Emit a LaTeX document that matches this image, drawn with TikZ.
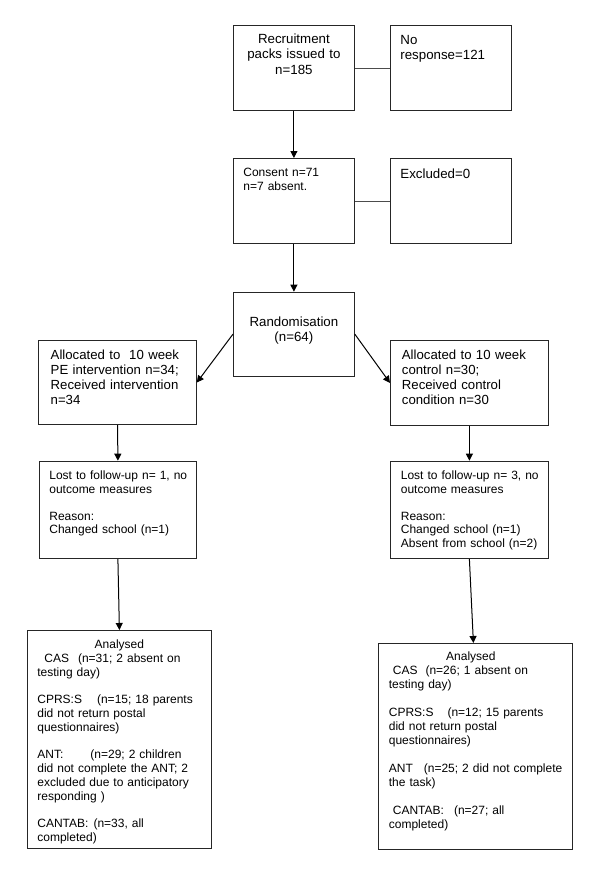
\documentclass[tikz,border=0pt]{standalone}
\usepackage{fontspec}
\setmainfont{Liberation Sans}
\usetikzlibrary{arrows.meta}

\begin{document}
\begin{tikzpicture}[
  x=1pt, y=-1pt,
  block/.style={draw=black!85, line width=0.8pt, anchor=north west, inner ysep=0pt, align=left},
  big text/.style={font=\fontsize{13.3}{15.5}\selectfont},
  mid text/.style={font=\fontsize{13.2}{15}\selectfont},
  small text/.style={font=\fontsize{12}{13.5}\selectfont},
  link/.style={draw=black!70, line width=0.7pt},
  arrow/.style={draw=black, line width=1pt, -{Triangle[width=7pt,length=7pt]}},
]
\useasboundingbox (0,0) rectangle (600,875);

\node[name=recruit, block, big text, align=center, inner xsep=5pt, text width=111pt,
  text height=17.8pt, text depth=67.2pt] at (233,25)
  {Recruitment\\packs issued to\\n=185};
\node[name=noresp, block, big text, inner xsep=10pt, text width=101pt,
  text height=18.8pt, text depth=66.2pt] at (390,25)
  {No\\response=121};

\node[name=consent, block, font=\fontsize{12}{13.3}\selectfont, inner xsep=10pt, text width=101pt,
  text height=18.3pt, text depth=66.7pt] at (233,158)
  {Consent n=71\\n=7 absent.};
\node[name=excluded, block, big text, inner xsep=10pt, text width=101pt,
  text height=19.8pt, text depth=65.2pt] at (390,158)
  {Excluded=0};

\node[name=random, block, big text, align=center, inner xsep=5pt, text width=111pt,
  text height=33.9pt, text depth=50.1pt] at (233,291.7)
  {Randomisation\\(n=64)};

\node[name=allocpe, block, mid text, inner xsep=12pt, text width=133.7pt,
  text height=19.4pt, text depth=64.9pt] at (38.3,340)
  {\mbox{Allocated to\ \ 10 week}\\\mbox{PE intervention n=34;}\\\mbox{Received intervention}\\n=34};
\node[name=alloccon, block, mid text, inner xsep=11.5pt, text width=135pt,
  text height=19.4pt, text depth=65.6pt] at (390,340)
  {Allocated to 10 week\\control n=30;\\Received control\\condition n=30};

\node[name=lostpe, block, small text, inner xsep=10pt, text width=137pt,
  text height=18.6pt, text depth=79pt] at (39,460.7)
  {\mbox{Lost to follow-up n= 1, no}\\outcome measures\\[13.5pt]Reason:\\Changed school (n=1)};
\node[name=lostcon, block, small text, inner xsep=10.5pt, text width=137pt,
  text height=18.6pt, text depth=79pt] at (390,460.7)
  {\mbox{Lost to follow-up n= 3, no}\\outcome measures\\[13.5pt]Reason:\\Changed school (n=1)\\\mbox{Absent from school (n=2)}};

\node[name=analpe, block, font=\fontsize{12}{13.8}\selectfont, inner xsep=10pt, text width=164pt,
  text height=18pt, text depth=200pt] at (27,630)
  {{\centering Analysed\par}
   \mbox{\hspace*{7pt}CAS\hspace{9pt}(n=31; 2 absent on}\\
   testing day)\\[13.8pt]
   \mbox{CPRS:S\hspace{15pt}(n=15; 18 parents}\\
   did not return postal\\
   questionnaires)\\[13.8pt]
   \mbox{ANT:\hspace{27pt}(n=29; 2 children}\\
   \mbox{did not complete the ANT; 2}\\
   \mbox{excluded due to anticipatory}\\
   responding )\\[13.8pt]
   CANTAB:\hspace{5pt}(n=33, all\\
   completed)};
\node[name=analcon, block, font=\fontsize{12}{14}\selectfont, inner xsep=10.5pt, text width=173pt,
  text height=17.3pt, text depth=188.7pt] at (378,643)
  {{\centering\hspace*{-9pt}Analysed\par}
   \mbox{\hspace*{4pt}CAS\hspace{8pt}(n=26; 1 absent on}\\
   testing day)\\[14pt]
   \mbox{CPRS:S\hspace{14pt}(n=12; 15 parents}\\
   did not return postal\\
   questionnaires)\\[14pt]
   \mbox{ANT\hspace{11pt}(n=25; 2 did not complete}\\
   the task)\\[14pt]
   \mbox{\hspace*{4pt}CANTAB:\hspace{10pt}(n=27; all}\\
   completed)};

\draw[link] (recruit.east) -- (noresp.west);
\draw[link] (consent.east) -- (excluded.west);
\draw[arrow] (recruit.south) -- (consent.north);
\draw[arrow] (consent.south) -- (random.north);
\draw[arrow] (random.west) -- (allocpe.east);
\draw[arrow] (random.east) -- (alloccon.west);
\draw[arrow] (allocpe.south) -- (lostpe.north);
\draw[arrow] (alloccon.south) -- (lostcon.north);
\draw[arrow] (lostpe.south) -- (analpe.north);
\draw[arrow] (lostcon.south) -- ([xshift=-2pt]analcon.north);
\end{tikzpicture}
\end{document}
